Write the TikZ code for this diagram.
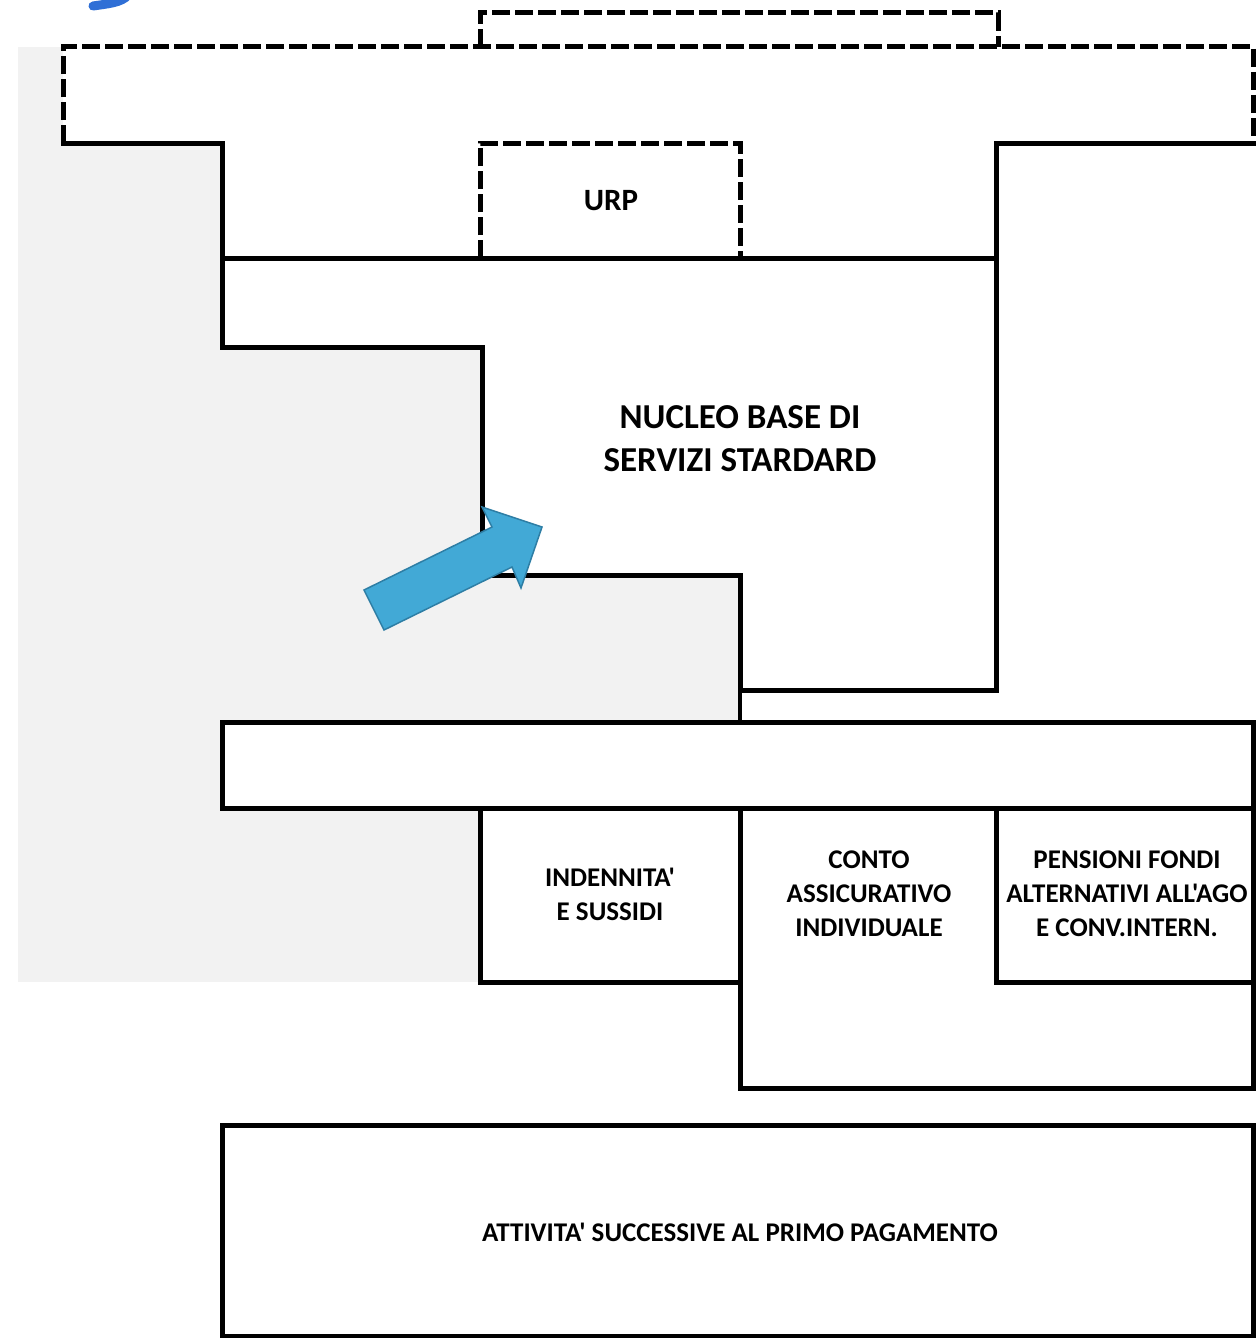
\documentclass[tikz,border=0pt]{standalone}
\usepackage{fontspec}
\setmainfont{Carlito}[Ligatures=TeXOff]
\definecolor{bgray}{HTML}{F2F2F2}
\definecolor{arrfill}{HTML}{42A9D6}
\definecolor{arrline}{HTML}{2E7EA5}
\definecolor{topblue}{HTML}{2F6FD6}
\begin{document}
\begin{tikzpicture}[x=1pt,y=-1pt,
  solidline/.style={line width=5pt,line join=miter,line cap=rect},
  dashline/.style={line width=5pt,dash pattern=on 18pt off 5pt},
  lbl/.style={font=\bfseries,align=center,text=black,inner sep=0pt},
  biglbl/.style={lbl,font=\bfseries\fontsize{35}{43}\selectfont},
  boxlbl/.style={lbl,font=\bfseries\fontsize{27}{34}\selectfont}]
\useasboundingbox (0,0) rectangle (1256,1338);
\fill[white] (0,0) rectangle (1256,1338);
% gray background
\fill[bgray] (18,47) rectangle (740,982);
% fragment of blue glyph at top left
\draw[topblue,line width=9pt,line cap=round] (93,6) .. controls (106,4) and (122,3) .. (128,-5);
% big outline shape fill
\fill[white] (63,47) -- (1253,47) -- (1253,143) -- (996,143) -- (996,690) -- (740,690)
  -- (740,575) -- (482,575) -- (482,347) -- (222,347) -- (222,143) -- (63,143) -- cycle;
\draw[solidline] (1253,143) -- (996,143) -- (996,690) -- (740,690) -- (740,575)
  -- (482,575) -- (482,347) -- (222,347) -- (222,143) -- (63,143);
\draw[dashline] (63,143) -- (63,47) -- (1253,47) -- (1253,143);
\draw[solidline] (222,258) -- (996,258);
% top dashed box
\draw[dashline] (480,47) -- (480,13) -- (998,13) -- (998,47);
% URP dashed box
\draw[dashline] (480,258) -- (480,143) -- (740,143) -- (740,258);
\node[lbl,font=\bfseries\fontsize{31}{36}\selectfont] (urp) at (611,201) {URP};
\node[biglbl] (nucleo) at (740,439) {NUCLEO BASE DI\\SERVIZI STARDARD};
% connecting tick
\draw[line width=3.5pt] (740,690) -- (740,722);
% horizontal bar
\draw[solidline,fill=white] (222,722) rectangle (1253,808);
% lower boxes
\draw[solidline,fill=white] (480,808) rectangle (740,982);
\node[boxlbl] (ind) at (610,894) {INDENNITA'\\E SUSSIDI};
\draw[solidline] (740,808) -- (740,1088) -- (1253,1088) -- (1253,982);
\node[boxlbl] (conto) at (869,894) {CONTO\\ASSICURATIVO\\INDIVIDUALE};
\draw[solidline] (996,808) rectangle (1253,982);
\node[boxlbl] (pens) at (1127,894) {PENSIONI FONDI\\ALTERNATIVI ALL'AGO\\E CONV.INTERN.};
% bottom box
\draw[solidline] (222,1125) rectangle (1253,1336);
\node[boxlbl] (att) at (740,1232) {ATTIVITA' SUCCESSIVE AL PRIMO PAGAMENTO};
% blue arrow
\draw[arrline,fill=arrfill,line width=1.5pt,line join=miter]
  (364,590) -- (492,527) -- (482,507) -- (542,527) -- (521,588) -- (512,567) -- (384,630) -- cycle;
\end{tikzpicture}
\end{document}
